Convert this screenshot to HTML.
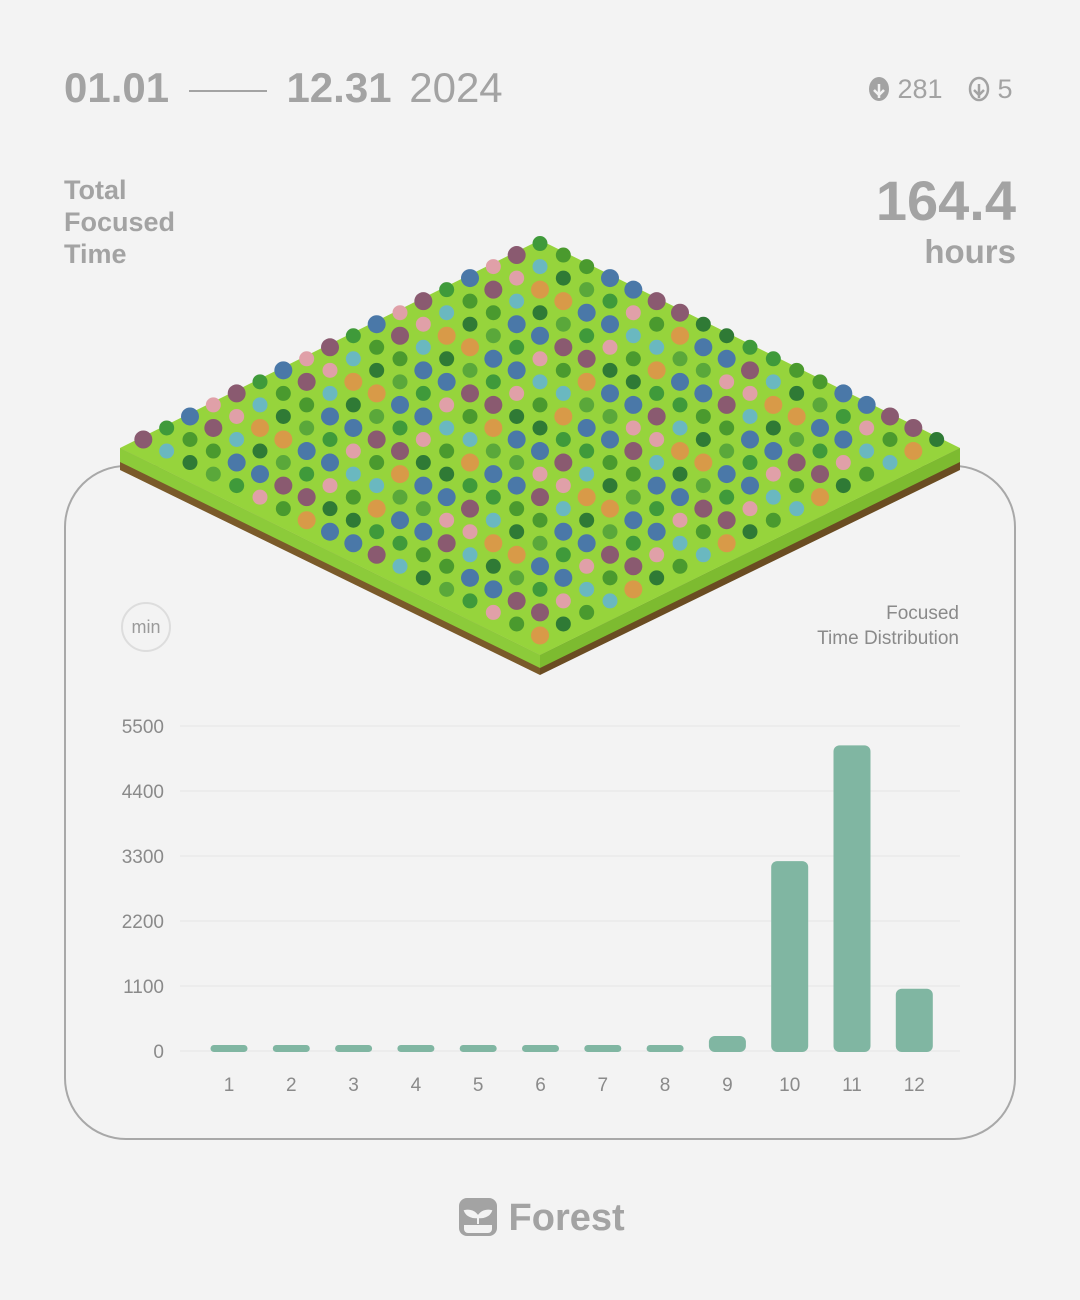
<!DOCTYPE html>
<html><head><meta charset="utf-8">
<style>
body{margin:0;width:1080px;height:1300px;background:#f3f3f3;font-family:"Liberation Sans",sans-serif;overflow:hidden;position:relative}
.abs{position:absolute}
</style></head><body>
<div class="abs" style="left:64px;top:64px;font-size:42px;font-weight:bold;color:#a3a3a3;white-space:nowrap">
01.01 <span style="display:inline-block;width:78px;height:2px;background:#a3a3a3;vertical-align:middle;margin:0 8px"></span> 12.31 <span style="font-weight:normal;margin-left:6px">2024</span></div>
<div class="abs" style="left:868px;top:74px;font-size:27px;color:#a3a3a3">
<svg width="22" height="26" viewBox="0 0 22 26" style="vertical-align:-4px"><ellipse cx="11" cy="13" rx="10" ry="12" fill="#a3a3a3"/><path d="M11 8v14M6 14l5 5 5-5" stroke="#f3f3f3" stroke-width="2.5" fill="none"/></svg> 281</div>
<div class="abs" style="left:968px;top:74px;font-size:27px;color:#a3a3a3">
<svg width="22" height="26" viewBox="0 0 22 26" style="vertical-align:-4px"><ellipse cx="11" cy="13" rx="9" ry="11" fill="none" stroke="#a3a3a3" stroke-width="2.5"/><path d="M11 8v14M6 14l5 5 5-5" stroke="#a3a3a3" stroke-width="2.5" fill="none"/></svg> 5</div>
<div class="abs" style="left:64px;top:174px;font-size:27px;line-height:32px;font-weight:bold;color:#a3a3a3">Total<br>Focused<br>Time</div>
<div class="abs" style="right:64px;top:170px;text-align:right;color:#a3a3a3;font-weight:bold">
<div style="font-size:56px;line-height:62px">164.4</div><div style="font-size:33px;line-height:40px">hours</div></div>

<div class="abs" style="left:64px;top:465px;width:948px;height:671px;border:2px solid #a8a8a8;border-radius:62px"></div>

<svg class="abs" style="left:0;top:0" width="1080" height="1300" id="forest">
<polygon points="120,448 540,655 540,675 120,470" fill="#7a5a2a"/>
<polygon points="960,448 540,655 540,675 960,470" fill="#6a4c22"/>
<polygon points="120,448 540,655 540,668 120,462" fill="#8ccb3a"/>
<polygon points="960,448 540,655 540,668 960,462" fill="#7dbb30"/>
<polygon points="540,240 960,448 540,655 120,448" fill="#96d43c"/>
<g id="trees"></g>
</svg>

<div class="abs" style="left:121px;top:602px;width:46px;height:46px;border:2px solid #ddd;border-radius:50%;text-align:center;line-height:46px;font-size:18px;color:#9a9a9a">min</div>
<div class="abs" style="right:121px;top:601px;text-align:right;font-size:19px;line-height:25px;color:#8a8a8a">Focused<br>Time Distribution</div>

<svg class="abs" style="left:0;top:0" width="1080" height="1300" id="chart"></svg>

<div class="abs" style="left:458px;top:1197px;font-size:38px;font-weight:bold;color:#a3a3a3;white-space:nowrap">
<svg width="40" height="40" viewBox="0 0 40 40" style="vertical-align:-7px"><rect x="1" y="1" width="38" height="38" rx="8" fill="#a3a3a3"/><path d="M6 28h28v4a4 4 0 0 1-4 4H10a4 4 0 0 1-4-4z" fill="#f3f3f3"/><path d="M20 27v-7M20 20c-3-6-9-7-13-6 2 5 8 7 13 6zM20 20c3-6 9-7 13-6-2 5-8 7-13 6z" fill="#f3f3f3" stroke="#f3f3f3" stroke-width="2"/></svg> Forest</div>

<script>
const months=["1","2","3","4","5","6","7","8","9","10","11","12"];
const minutes=[0,0,0,0,0,0,0,0,270,3230,5190,1070];
const yTicks=[0,1100,2200,3300,4400,5500];
const NS="http://www.w3.org/2000/svg";
const svg=document.getElementById('chart');
const y0=1051,yTop=726,yMax=5500;
const y=v=>y0-(v/yMax)*(y0-yTop);
const x=i=>229+i*62.3;
function mk(t,a){const e=document.createElementNS(NS,t);for(const k in a)e.setAttribute(k,a[k]);svg.appendChild(e);return e;}
yTicks.forEach(t=>{
 const l=mk('line',{x1:180,x2:960,y1:y(t),y2:y(t),stroke:'#e6e6e6','stroke-width':1});
 
 
 const tx=mk('text',{x:164,y:y(t)+7,'text-anchor':'end','font-size':19,fill:'#8a8a8a','font-family':'Liberation Sans'});
 tx.textContent=t;
 
 
});
months.forEach((m,i)=>{
 let top=y(minutes[i]);
 let h=Math.max(y0-top,7);
 const r=mk('rect',{x:x(i)-18.5,y:y0+1-h,width:37,height:h,rx:Math.min(6,h/2),fill:'#80b6a2'});
 
 
 const tx=mk('text',{x:x(i),y:1091,'text-anchor':'middle','font-size':19,fill:'#8a8a8a','font-family':'Liberation Sans'});
 tx.textContent=m;
 
 
});
const g=document.getElementById('trees');
const cols=['#4a78a8','#3f9a3a','#e0a0a8','#8a5a70','#6ab8c0','#4a9a2e','#d89a48','#2f7a35','#5aa83a','#4a78a8'];
let k=0;
for(let a=0;a<18;a++)for(let b=0;b<18;b++){
 const u=(a+0.5)/18,v=(b+0.5)/18;
 const px=540+(u-v)*420, py=240+(u+v)*207.5-8;
 k=(k*7+a*3+b*5+1)%10;
 const c=document.createElementNS(NS,'circle');
 c.setAttribute('cx',px);c.setAttribute('cy',py);c.setAttribute('r',k%3==0?9:7.5);c.setAttribute('fill',cols[k]);
 
 
 g.appendChild(c);
}
</script>
</body></html>
